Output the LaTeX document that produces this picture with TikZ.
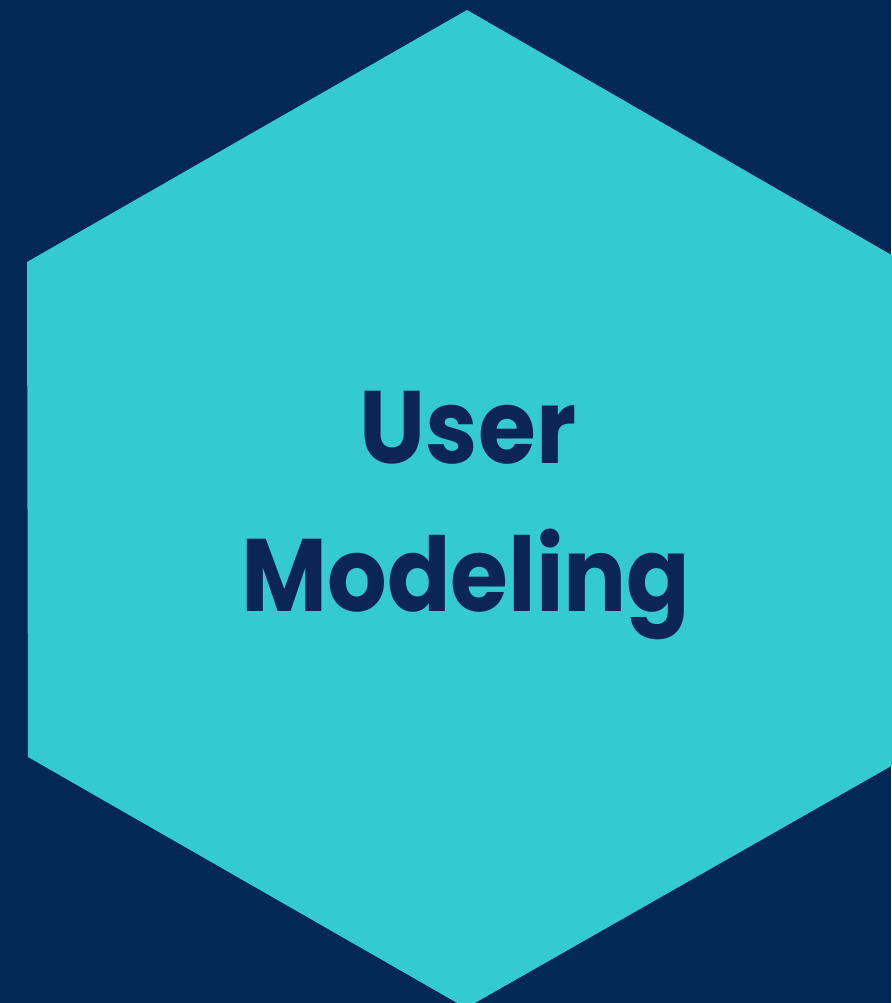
\documentclass[tikz,border=0pt]{standalone}
\usepackage{fontspec}
\setmainfont{Poppins}[UprightFont=*-Regular, BoldFont=*-Bold, FakeStretch=0.91]
\usepackage{xcolor}
\definecolor{navy}{HTML}{012856}
\definecolor{hexcyan}{HTML}{33CAD2}
\definecolor{inknavy}{HTML}{0B2656}

\begin{document}
\begin{tikzpicture}[x=1pt, y=-1pt]
	\tikzset{label/.style={anchor=base, text=inknavy, inner sep=0pt,
		font=\fontsize{103}{130}\selectfont\bfseries}}
	\fill[navy] (0,0) rectangle (891,1003);
	\useasboundingbox (0,0) rectangle (891,1003);
	% hexagon corners
	\coordinate (T) at (467,10);
	\coordinate (UL) at (27,262);
	\coordinate (LL) at (28,757);
	\coordinate (B) at (466,1008);
	\coordinate (LR) at (907,757);
	\coordinate (UR) at (907,264);
	\fill[hexcyan] (T) -- (UR) -- (LR) -- (B) -- (LL) -- (UL) -- cycle;
	\node[label] (user) at (468,463) {User};
	\node[label] (modeling) at (466,611) {Modeling};
\end{tikzpicture}
\end{document}
